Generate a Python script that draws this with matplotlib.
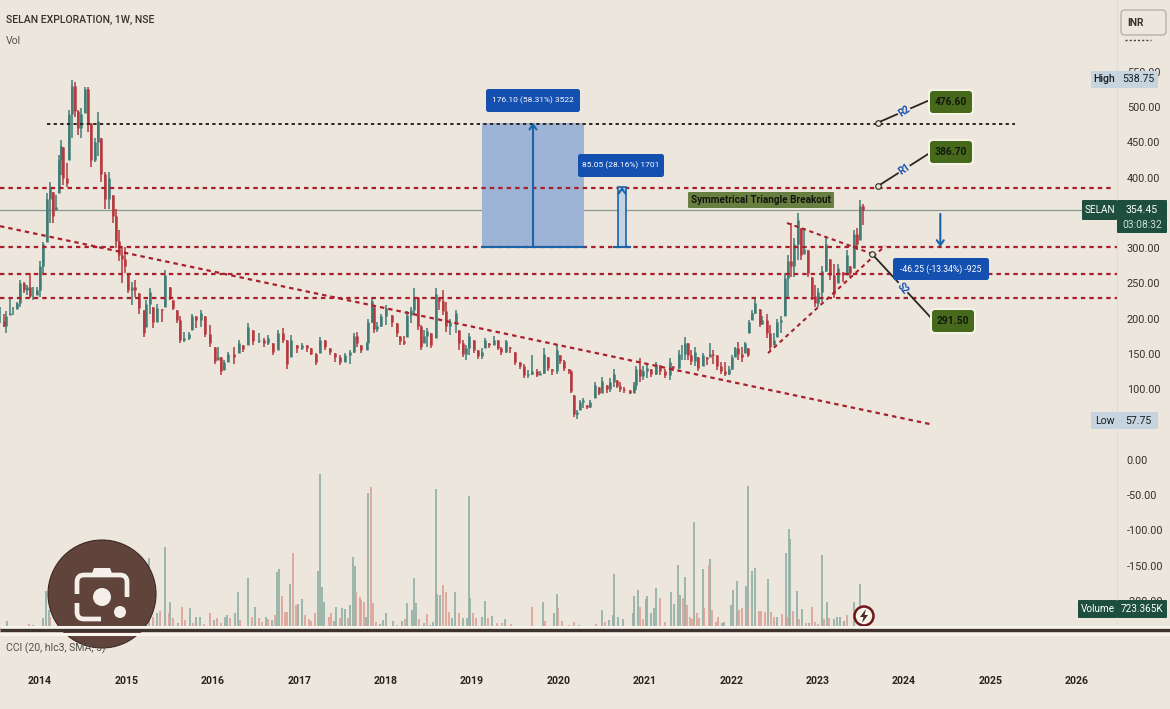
import matplotlib
matplotlib.use("Agg")
import matplotlib.pyplot as plt
from matplotlib.patches import Rectangle, FancyBboxPatch, Circle, PathPatch, Polygon
from matplotlib.path import Path

plt.rcParams['font.family'] = ['Roboto', 'DejaVu Sans']

# ---------- weekly price sample ----------
dates = [2013.54,2013.58,2013.61,2013.65,2013.69,2013.73,2013.77,2013.81,2013.85,2013.88,2013.92,2013.96,
 2014.00,2014.04,2014.08,2014.12,2014.15,2014.19,2014.22,2014.24,2014.27,2014.31,2014.34,2014.37,2014.41,2014.44,2014.48,2014.52,2014.55,2014.59,2014.64,2014.67,2014.71,2014.75,2014.80,2014.84,2014.88,2014.91,2014.95,2014.98,
 2015.02,2015.06,2015.10,2015.15,2015.20,2015.23,2015.27,2015.31,2015.35,2015.41,2015.45,2015.50,2015.54,2015.58,2015.62,2015.67,2015.72,2015.76,2015.81,2015.86,2015.91,2015.97,
 2016.03,2016.06,2016.09,2016.13,2016.18,2016.24,2016.30,2016.35,2016.41,2016.47,2016.53,2016.59,2016.64,2016.70,2016.76,2016.81,2016.86,2016.91,2016.97,
 2017.03,2017.09,2017.14,2017.20,2017.24,2017.30,2017.36,2017.41,2017.47,2017.53,2017.59,2017.63,2017.67,2017.72,2017.78,2017.80,2017.84,2017.86,2017.90,2017.95,
 2018.01,2018.07,2018.13,2018.17,2018.21,2018.25,2018.29,2018.33,2018.37,2018.41,2018.45,2018.48,2018.53,2018.58,2018.62,2018.66,2018.70,2018.75,2018.81,2018.85,2018.89,2018.93,2018.97,
 2019.02,2019.07,2019.11,2019.15,2019.20,2019.25,2019.30,2019.34,2019.39,2019.44,2019.50,2019.56,2019.60,2019.65,2019.69,2019.75,2019.79,2019.83,2019.88,2019.93,2019.98,
 2020.02,2020.06,2020.12,2020.15,2020.18,2020.21,2020.25,2020.29,2020.33,2020.37,2020.42,2020.47,2020.50,2020.56,2020.60,2020.64,2020.68,2020.71,2020.76,2020.83,2020.87,2020.90,2020.94,2020.98,
 2021.03,2021.07,2021.13,2021.18,2021.23,2021.29,2021.33,2021.39,2021.43,2021.47,2021.50,2021.54,2021.58,2021.62,2021.67,2021.72,2021.76,2021.79,2021.83,2021.88,2021.93,2021.98,
 2022.01,2022.04,2022.08,2022.13,2022.16,2022.20,2022.21,2022.24,2022.28,2022.33,2022.36,2022.41,2022.45,2022.49,2022.53,2022.58,2022.62,2022.66,2022.69,2022.73,2022.77,2022.81,2022.84,2022.89,2022.93,2022.97,
 2023.01,2023.05,2023.10,2023.14,2023.19,2023.24,2023.29,2023.34,2023.38,2023.42,2023.46,2023.49,2023.53]
highs = [217,207,210,229,217,224,255,252,248,264,245,245,
 281,309,378,394,380,375,432,453,444,420,496,538,536,496,498,529,529,477,456,493,456,408,408,375,356,326,300,302,
 264,252,255,236,212,226,243,217,221,214,269,245,226,212,203,181,181,207,203,212,203,191,
 160,160,146,141,153,160,170,162,193,184,179,172,177,165,184,186,170,177,162,
 165,162,158,151,174,170,158,151,148,151,155,179,181,162,167,200,231,217,195,207,
 219,205,193,175,175,210,217,243,231,191,184,186,179,243,231,240,224,200,212,184,170,162,179,
 170,155,158,172,165,175,170,160,170,160,153,139,136,127,148,129,125,158,146,129,162,
 148,141,129,127,92,70,84,87,77,84,110,103,117,106,115,129,113,110,103,99,110,132,144,132,
 136,129,139,134,129,144,132,155,162,174,165,155,160,146,151,146,165,155,148,139,139,132,
 148,160,167,160,167,158,198,212,229,214,203,207,191,179,200,203,264,290,335,314,349,328,328,297,259,247,
 243,274,316,285,278,278,266,297,274,325,328,368,363]
lows = [193,188,179,205,205,214,217,236,233,229,226,233,
 231,264,309,335,335,354,378,404,389,387,425,456,486,460,456,491,465,415,422,430,394,356,356,335,300,281,250,264,
 236,219,231,207,174,188,207,186,195,195,217,226,212,193,165,167,170,184,186,188,174,160,
 136,141,120,127,139,136,151,153,162,162,165,160,162,148,155,165,129,146,151,
 155,153,148,134,151,155,148,139,134,139,136,151,160,151,155,165,193,179,181,188,
 191,188,174,162,162,174,193,207,184,155,165,160,158,172,212,205,181,177,179,155,146,141,148,
 151,143,143,158,158,162,155,148,151,151,134,129,115,115,120,117,120,122,125,120,122,
 136,125,122,94,61,58,70,73,71,73,87,92,94,94,96,103,101,96,94,93,94,99,110,113,
 115,117,120,120,115,113,125,129,141,141,141,134,132,125,132,134,146,136,127,122,118,120,
 127,146,141,139,151,146,179,198,207,188,191,172,155,162,174,179,203,229,259,259,283,283,292,259,226,217,
 217,224,266,255,229,250,252,262,259,271,297,311,333]
closes = [197,190,203,208,208,222,250,240,245,232,232,240,
 275,305,370,385,345,358,425,445,400,392,490,530,495,470,490,525,478,425,450,480,405,370,400,345,310,290,285,275,
 240,245,240,215,180,220,238,195,215,212,262,230,215,198,170,172,178,204,198,208,178,165,
 140,145,125,138,150,145,165,157,188,168,170,165,172,152,180,170,135,170,158,
 162,158,150,138,170,160,152,145,138,148,152,175,165,155,165,195,225,185,190,203,
 215,195,180,168,165,205,212,230,190,160,175,182,162,235,225,210,190,195,208,165,150,158,175,
 155,147,152,170,163,170,158,152,168,158,138,133,120,122,125,120,123,150,130,125,155,
 140,130,125,97,65,68,82,84,74,82,106,95,112,100,110,122,105,100,98,95,106,128,118,125,
 130,122,136,125,120,138,130,150,150,165,148,140,152,130,148,142,150,148,132,125,122,128,
 145,158,150,145,165,148,195,208,222,192,198,180,160,170,195,198,258,282,275,305,340,290,298,265,232,222,
 238,268,305,262,235,272,262,290,265,320,305,360,354.45]

# ---------- weekly volume in thousands, split by candle direction ----------
vol_up_dates = [2013.58,2013.62,2013.77,2013.92,2014.03,2014.07,2014.10,2014.27,2014.33,2014.42,2014.60,2014.75,2014.95,2015.14,2015.26,2015.35,2015.45,2015.50,2015.60,2015.74,2015.81,2015.85,
 2016.01,2016.14,2016.17,2016.26,2016.29,2016.41,2016.49,2016.61,2016.68,2016.74,2016.77,2016.89,2016.99,2017.03,2017.22,2017.24,2017.26,2017.29,2017.40,2017.43,2017.50,2017.53,2017.59,2017.62,2017.64,2017.77,2017.80,2017.94,2017.97,
 2018.00,2018.08,2018.19,2018.25,2018.30,2018.33,2018.35,2018.44,2018.51,2018.55,2018.58,2018.60,2018.63,2018.77,2018.80,2018.90,2018.94,2018.97,2018.98,2019.11,2019.15,2019.23,2019.38,2019.60,2019.74,2019.82,2019.89,2019.95,2019.98,
 2020.24,2020.50,2020.58,2020.63,2020.64,2020.69,2020.75,2020.86,2020.88,2020.92,2021.01,2021.03,2021.07,2021.11,2021.13,2021.30,2021.34,2021.38,2021.41,2021.46,2021.57,2021.67,2021.75,2021.89,2021.92,
 2022.00,2022.02,2022.07,2022.17,2022.20,2022.24,2022.28,2022.42,2022.53,2022.63,2022.67,2022.68,2022.76,2022.82,2022.90,2023.05,2023.11,2023.19,2023.23,2023.26,2023.30,2023.42,2023.49]
vol_up = [68,141,68,79,194,618,314,367,865,576,419,367,314,340,1127,262,1300,445,105,340,199,199,
 157,210,236,262,592,812,356,199,157,917,954,718,409,487,933,2452,681,435,147,367,340,330,393,1153,1011,210,2159,94,157,
 262,147,147,430,314,812,419,105,79,120,2211,566,550,183,592,183,183,2106,498,210,461,220,168,68,63,435,63,272,566,
 79,314,157,236,875,199,168,272,540,634,482,540,272,340,660,592,409,1017,550,838,1698,954,1121,105,120,
 393,629,776,692,2269,933,969,802,199,1205,1582,1425,618,330,105,1179,435,168,199,199,147,445,723.365]
vol_down_dates = [2013.54,2013.65,2013.87,2014.00,2014.12,2014.21,2014.37,2014.50,2014.66,2014.85,2015.06,2015.20,2015.31,2015.39,2015.49,2015.54,2015.64,2015.68,2015.77,2015.90,2015.97,
 2016.05,2016.10,2016.20,2016.32,2016.37,2016.45,2016.53,2016.57,2016.64,2016.72,2016.80,2016.84,2016.86,2016.93,2016.96,2017.07,2017.11,2017.14,2017.18,2017.34,2017.37,2017.47,2017.57,2017.66,2017.70,2017.72,2017.75,2017.83,2017.85,2017.89,
 2018.13,2018.22,2018.39,2018.48,2018.66,2018.70,2018.73,2018.85,2019.01,2019.05,2019.19,2019.29,2019.35,2019.45,2019.52,2019.69,2019.84,
 2020.00,2020.04,2020.12,2020.18,2020.34,2020.44,2020.54,2020.81,2020.94,2020.98,2021.18,2021.23,2021.44,2021.49,2021.52,2021.55,2021.60,2021.63,2021.69,2021.74,2021.78,2021.82,2021.85,
 2022.09,2022.12,2022.19,2022.32,2022.35,2022.39,2022.46,2022.49,2022.59,2022.65,2022.71,2022.79,2022.86,2022.93,2022.97,2023.01,2023.07,2023.13,2023.34]
vol_down = [52,68,94,63,210,472,314,210,288,210,314,340,210,304,262,183,367,157,105,94,262,
 183,105,183,157,63,210,183,131,168,236,540,288,288,1216,393,236,168,147,262,210,272,183,183,592,514,472,445,2243,419,131,
 79,168,168,252,707,592,288,272,262,183,183,105,105,89,68,356,147,
 351,147,79,120,52,89,131,52,367,168,498,131,498,393,210,168,262,183,340,1017,314,131,199,
 314,340,367,304,304,288,288,210,246,210,304,168,105,367,120,89,168,183,236]

# ---------- levels, trend lines, measured moves ----------
res_levels = [385, 301, 263, 229]
r2_level = 476.6
long_base = 301.55
long_move = 176.10
short_move = 85.05
drop_start = 348.35
drop_move = -46.75
trend_dates = [2013.537, 2024.31]
trend_vals = [331, 50]
tri_low_dates = [2022.426, 2023.78]
tri_low_vals = [151, 303]
tri_up_dates = [2022.646, 2023.606]
tri_up_vals = [335.5, 293]
last_close = 354.45
year_ticks = list(range(2014, 2027))
price_ticks = [100, 150, 200, 250, 300, 400, 450, 500, 550]
cci_ticks = [0, -50, -100, -150, -200]

BG = '#ece6dd'; UP = '#3f7c75'; DN = '#b5383d'
RED = '#a8212a'; BLUE = '#1450b0'; ARW = '#1c64a8'; TXT = '#35322e'
W, H = 1170, 709
fig = plt.figure(figsize=(W/100, H/100), dpi=100, facecolor=BG)
def rect(px0, py0, px1, py1):
    return [px0/W, 1-py1/H, (px1-px0)/W, (py1-py0)/H]

XLIM = (2013.537, 2026.465)
# ---------- price pane ----------
ax = fig.add_axes(rect(0, 0, 1117, 630), facecolor=BG)
ax.set_xlim(*XLIM)
ax.set_ylim(-241.8, 651.8)
for s in ax.spines.values():
    s.set_visible(False)
ax.spines['right'].set_visible(True); ax.spines['right'].set_color('#e2dbd0')
ax.xaxis.set_visible(False)
ax.yaxis.tick_right()
ax.set_yticks(price_ticks, [f'{v:.2f}' for v in price_ticks])
ax.tick_params(axis='y', length=0, pad=7, labelsize=7.8, labelcolor=TXT)

# candles
opens = [closes[0]] + closes[:-1]
ccol = [UP if c >= o else DN for o, c in zip(opens, closes)]
ax.vlines(dates, lows, highs, colors=ccol, lw=1.1, zorder=3)
b0 = [max(min(o, h), l) for o, h, l in zip(opens, highs, lows)]
ax.vlines(dates, b0, closes, colors=ccol, lw=1.8, zorder=3)

# horizontal levels
dash = (0, (2.0, 1.8))
ax.plot([XLIM[0], 2026.465-0.06], [res_levels[0]]*2, color=RED, lw=1.6, ls=dash, zorder=4)
for lv in res_levels[1:]:
    ax.plot(XLIM, [lv, lv], color=RED, lw=1.6, ls=dash, zorder=4)
ax.plot([2014.08, 2025.29], [r2_level]*2, color='#2a2622', lw=1.4, ls=(0, (1.7, 1.7)), zorder=4)
ax.plot([XLIM[0], 2026.07], [last_close]*2, color='#8b9a90', lw=0.9, zorder=2)
ax.plot(trend_dates, trend_vals, color=RED, lw=1.6, ls=dash, zorder=4)
ax.plot(tri_low_dates, tri_low_vals, color=RED, lw=1.5, ls=dash, zorder=4)
ax.plot(tri_up_dates, tri_up_vals, color=RED, lw=1.5, ls=dash, zorder=4)

# measured-move boxes and arrows
ax.add_patch(Rectangle((2019.116, long_base), 1.18, long_move, fc='#9db4d6', ec='none', zorder=2))
def arrow(x, y0, y1):
    ax.annotate('', xy=(x, y1), xytext=(x, y0), zorder=5,
                arrowprops=dict(arrowstyle='->,head_length=0.35,head_width=0.25', color=ARW, lw=1.5, shrinkA=0, shrinkB=0))
ax.plot([2019.116, 2020.296], [long_base]*2, color=ARW, lw=1.5, zorder=5)
arrow(2019.706, long_base, long_base+long_move)
ax.add_patch(Rectangle((2020.69, long_base), 0.092, short_move, fc='#c3d2e4', ec=ARW, lw=1.2, zorder=5))
ax.plot([2020.64, 2020.83], [long_base]*2, color=ARW, lw=1.5, zorder=5)
arrow(2020.736, long_base+short_move-4, long_base+short_move)
arrow(2024.42, drop_start, drop_start+drop_move)

# callout connectors
for xs, ys in [([2023.70, 2024.30], [478, 510]), ([2023.70, 2024.30], [388, 435]), ([2023.63, 2024.335], [291.5, 198])]:
    ax.plot(xs, ys, color='#2a2622', lw=1.3, zorder=5)
    ax.plot(xs[0], ys[0], 'o', ms=4, mfc=BG, mec='#2a2622', mew=0.8, zorder=6)
ax.text(2024.0, 494, 'R2', color=BLUE, rotation=35, fontsize=7, weight='bold', ha='center', va='center',
        bbox=dict(fc=BG, ec='none', pad=0.5), zorder=6)
ax.text(2024.0, 412, 'R1', color=BLUE, rotation=35, fontsize=7, weight='bold', ha='center', va='center',
        bbox=dict(fc=BG, ec='none', pad=0.5), zorder=6)
ax.text(2023.98, 243, 'S2', color=BLUE, rotation=-50, fontsize=7, weight='bold', ha='center', va='center',
        bbox=dict(fc=BG, ec='none', pad=0.5), zorder=6)

# ---------- lower pane: volume with CCI scale ----------
ax2 = fig.add_axes(rect(0, 445, 1117, 630), facecolor='none')
ax2.set_xlim(*XLIM)
ax2.set_ylim(-241.2, 21.3)
for s in ax2.spines.values():
    s.set_visible(False)
axv = ax2.twinx()
axv.set_ylim(0, 2909)
axv.axis('off')
axv.vlines(vol_up_dates, 0, vol_up, colors='#8fae a3'.replace(' ', ''), lw=1.2)
axv.vlines(vol_down_dates, 0, vol_down, colors='#dd9f94', lw=1.2)
ax2.yaxis.tick_right()
ax2.set_yticks(cci_ticks, [f'{v:.2f}' for v in cci_ticks])
ax2.tick_params(axis='y', length=0, pad=7, labelsize=7.8, labelcolor=TXT)
ax2.set_xticks(year_ticks, [str(y) for y in year_ticks])
ax2.tick_params(axis='x', length=0, pad=33, labelsize=7.6, labelcolor='#26231f')
for t in ax2.get_xticklabels():
    t.set_fontweight('bold')

# ---------- chart chrome in figure pixels ----------
ov = fig.add_axes([0, 0, 1, 1], facecolor='none', zorder=10)
ov.set_xlim(0, W); ov.set_ylim(H, 0); ov.axis('off')

def pill(x0, y0, x1, y1, color, text='', tc='white', fs=7.2, weight='normal', ec='none', lw=0, r=2.5):
    ov.add_patch(FancyBboxPatch((x0+r, y0+r), x1-x0-2*r, y1-y0-2*r, boxstyle=f'round,pad={r},rounding_size={r}',
                                fc=color, ec=ec, lw=lw))
    if text:
        ov.text((x0+x1)/2, (y0+y1)/2, text, color=tc, fontsize=fs, weight=weight, ha='center', va='center')

ov.text(6, 20, 'SELAN EXPLORATION, 1W, NSE', fontsize=7.6, color=TXT, va='center', weight='medium')
ov.text(6, 41, 'Vol', fontsize=7.6, color='#55514b', va='center')
ov.text(6, 648, 'CCI (20, hlc3, SMA, 5)', fontsize=7.6, color='#55514b', va='center')

# divider
ov.plot([0, W], [626.5, 626.5], color='#f8f4ee', lw=2.2, solid_capstyle='butt')
ov.plot([0, W], [634, 634], color='#f8f4ee', lw=2.2, solid_capstyle='butt')
ov.plot([0, W], [630, 630], color='#3e332d', lw=2.4, solid_capstyle='butt')

# blue measure labels
pill(486, 89, 580, 112, BLUE, f'{long_move:.2f} (58.31%) 3522', fs=6.0)
pill(578, 154, 664, 177, BLUE, f'{short_move:.2f} (28.16%) 1701', fs=6.0)
pill(893, 258, 989, 280, BLUE, '-46.25 (-13.34%) -925', fs=6.2)

# green target labels
for x0, y0, lab in [(930, 91, '476.60'), (930, 141, '386.70'), (932, 310, '291.50')]:
    pill(x0-2, y0-2, x0+44, y0+24, '#f5f2e6', r=4)
    pill(x0, y0, x0+42, y0+22, '#46691c', lab, tc='#14170c', fs=7.4, weight='bold', r=3)

pill(688, 192, 834, 208, '#687f42', 'Symmetrical Triangle Breakout', tc='#14150d', fs=7.2, weight='bold', r=1)

# price-scale tags
pill(1121, 10, 1166, 35, BG, ec='#b6b0a8', lw=1.0, r=4)
ov.text(1135, 23, 'INR', fontsize=7.4, color=TXT, ha='center', va='center', weight='bold')
ov.plot([1125, 1151], [40, 40], color='#45413c', lw=1.0, ls=(0, (1.5, 1.5)))
pill(1091, 71, 1118, 88, '#c6d4df', 'High', tc='#1c1c1c', fs=7.6, weight='medium', r=1)
pill(1118, 71, 1158, 88, '#c6d4df', '538.75', tc='#1c1c1c', fs=7.6, r=1)
pill(1091, 412, 1118, 429, '#c6d4df', 'Low', tc='#1c1c1c', fs=7.6, r=1)
pill(1118, 412, 1158, 429, '#c6d4df', '57.75', tc='#1c1c1c', fs=7.6, r=1)
pill(1082, 200, 1117, 220, '#1e4e3e', 'SELAN', fs=7.2, r=1)
pill(1117, 200, 1167, 233, '#1e4e3e', r=1)
ov.text(1142, 210, f'{last_close:.2f}', color='white', fontsize=7.6, ha='center', va='center')
ov.text(1142, 225, '03:08:32', color='#cfe0d8', fontsize=7.4, ha='center', va='center')
pill(1078, 600, 1117, 618, '#1e4e3e', 'Volume', fs=7.2, r=1)
pill(1117, 600, 1167, 618, '#1e4e3e', '723.365K', fs=7.2, r=1)

# lightning marker
ov.add_patch(Circle((864, 616), 9.5, fc='#f7f3ec', ec='#6f1418', lw=1.8))
ov.add_patch(Polygon([(866, 609), (860, 617), (863.5, 617), (862, 623), (868, 615), (864.5, 615)], fc='#4a2a26', ec='none'))

# lens badge
ov.add_patch(Circle((102, 594), 54, fc='#5b3f37', ec='#3a2620', lw=0.8, alpha=0.97))
IC = '#f4efe9'
M, L, Q = Path.MOVETO, Path.LINETO, Path.CURVE3
top = Path([(77, 594), (77, 582), (77, 575), (84, 575), (120, 575), (127, 575), (127, 582), (127, 597)],
           [M, L, Q, Q, L, Q, Q, L])
bot = Path([(77, 603), (77, 612), (77, 619), (84, 619), (101, 619)], [M, L, Q, Q, L])
for p in (top, bot):
    ov.add_patch(PathPatch(p, fc='none', ec=IC, lw=3.4, capstyle='butt'))
ov.add_patch(Polygon([(91, 576), (94, 568), (110, 568), (113, 576)], fc=IC, ec='none'))
ov.add_patch(Circle((102, 597), 9, fc=IC, ec='none'))
ov.add_patch(Circle((120, 612), 6, fc=IC, ec='none'))

fig.savefig('out.png', dpi=100, facecolor=BG)
